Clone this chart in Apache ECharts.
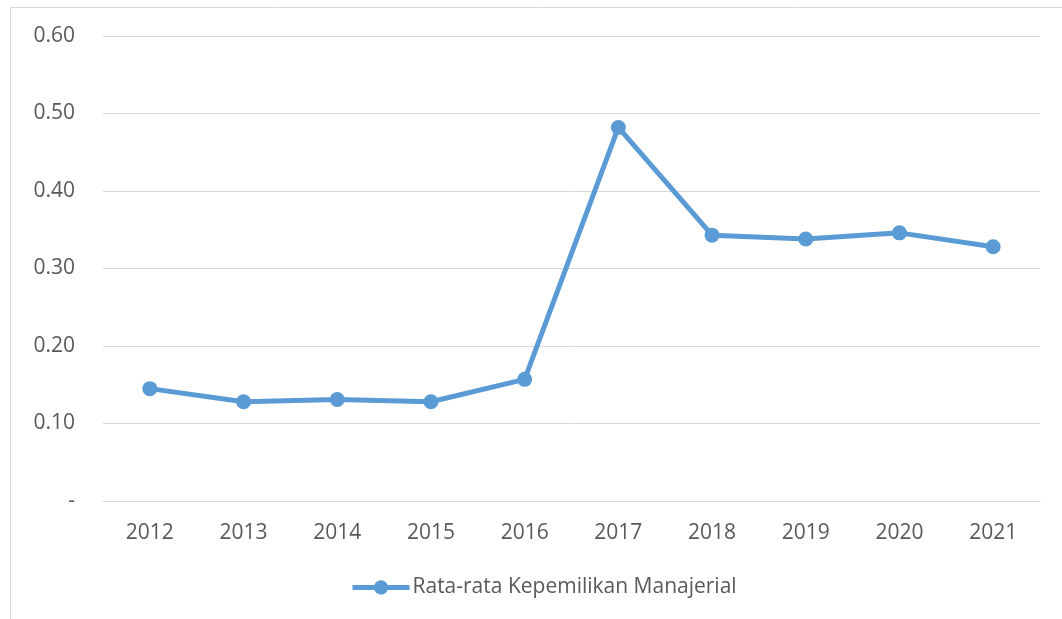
<!DOCTYPE html>
<html>
<head>
<meta charset="utf-8">
<script src="https://cdn.jsdelivr.net/npm/echarts@6/dist/echarts.min.js"></script>
<style>
  html, body { margin: 0; padding: 0; background: #fff; }
  #chart { width: 1062px; height: 619px; }
</style>
</head>
<body>
<div id="chart"></div>
<script>
var years = ['2012', '2013', '2014', '2015', '2016', '2017', '2018', '2019', '2020', '2021'];
var kepemilikan = [0.145, 0.128, 0.131, 0.128, 0.157, 0.482, 0.343, 0.338, 0.346, 0.328];
var seriesName = 'Rata-rata Kepemilikan Manajerial';

var myChart = echarts.init(document.getElementById('chart'));
var font = '"Open Sans", sans-serif';

myChart.setOption({
    animation: false,
    graphic: [{
        type: 'rect',
        shape: { x: 10.5, y: 7.5, width: 1100, height: 700 },
        style: { fill: 'none', stroke: '#d9d9d9', lineWidth: 1 },
        silent: true
    }],
    grid: { left: 103, right: 22, top: 36, bottom: 118 },
    legend: {
        data: [seriesName],
        left: 350,
        top: 577,
        padding: 0,
        itemWidth: 57,
        itemHeight: 18,
        lineStyle: { width: 5 },
        textStyle: { color: '#595959', fontSize: 21, fontFamily: font, padding: [0, 0, 0, -2] }
    },
    xAxis: {
        type: 'category',
        data: years,
        boundaryGap: true,
        axisLine: { lineStyle: { color: '#d9d9d9', width: 1 } },
        axisTick: { show: false },
        axisLabel: { color: '#595959', fontSize: 21, fontFamily: font, margin: 22 }
    },
    yAxis: {
        type: 'value',
        min: 0,
        max: 0.6,
        interval: 0.1,
        axisLine: { show: false },
        axisTick: { show: false },
        splitLine: { lineStyle: { color: '#d9d9d9', width: 1 } },
        axisLabel: {
            color: '#595959', fontSize: 21, fontFamily: font, margin: 28,
            formatter: function (v) { return v === 0 ? '-' : v.toFixed(2); }
        }
    },
    series: [{
        name: seriesName,
        type: 'line',
        data: kepemilikan,
        symbol: 'circle',
        symbolSize: 15,
        lineStyle: { color: '#5b9bd5', width: 5 },
        itemStyle: { color: '#5b9bd5' }
    }]
});
</script>
</body>
</html>
